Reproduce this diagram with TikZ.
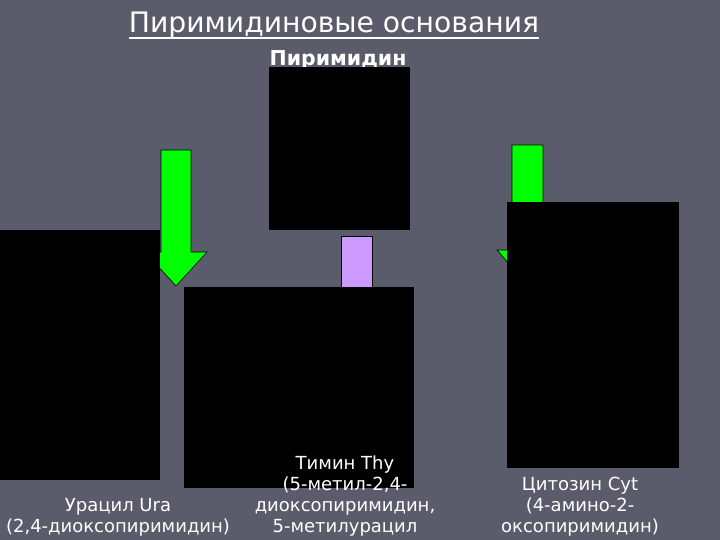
\documentclass[tikz,border=0pt]{standalone}
\usepackage{fontspec}
\setmainfont{DejaVu Sans}
\usepackage{tikz}
\usetikzlibrary{positioning,calc}
\definecolor{slidebg}{RGB}{91,92,107}
\definecolor{argreen}{RGB}{0,255,0}
\definecolor{lilac}{RGB}{204,153,255}
\tikzset{
  blackbox/.style={fill=black},
  greenarrow/.style={fill=argreen, draw=black, line width=0.6pt},
  caption/.style={text=white, font=\fontsize{18}{21}\selectfont, align=center, inner sep=0pt}
}

\begin{document}
\begin{tikzpicture}[x=1pt, y=-1pt]
% Background
\fill[slidebg] (0,0) rectangle (720,540);
\useasboundingbox (0,0) rectangle (720,540);

% Title
\node[text=white, font=\fontsize{28.2}{30}\selectfont, inner sep=0pt, anchor=base] (title) at (334,33) {Пиримидиновые основания};
\draw[white, line width=1.6pt] (title.west |- 0,38) -- (title.east |- 0,38);
\node[text=white, font=\bfseries\fontsize{20.5}{22}\selectfont, inner sep=0pt, anchor=base] (pyr) at (338,66) {Пиримидин};

% Green arrows (behind the boxes)
\draw[greenarrow] (161,150) -- (191,150) -- (191,252) -- (207,252) -- (176,286)
  -- (145,252) -- (161,252) -- cycle;
\draw[greenarrow] (512,145) -- (543,145) -- (543,250) -- (558,250) -- (527,285)
  -- (497,250) -- (512,250) -- cycle;

% Lilac connector block
\draw[fill=lilac, draw=black, line width=0.6pt] (341,236) rectangle (372,287);

% Structure boxes
\fill[blackbox] (269,67) rectangle (410,230);
\fill[blackbox] (0,230) rectangle (160,480);
\fill[blackbox] (184,287) rectangle (414,488);
\fill[blackbox] (507,202) rectangle (679,468);

% Captions
\node[caption, anchor=south] (ura) at (118,536) {Урацил Ura\\(2,4-диоксопиримидин)};
\node[caption, anchor=south] (thy) at (345,536) {Тимин Thy\\(5-метил-2,4-\\диоксопиримидин,\\5-метилурацил};
\node[caption, anchor=south] (cyt) at (580,536) {Цитозин Cyt\\(4-амино-2-\\оксопиримидин)};
\end{tikzpicture}
\end{document}
